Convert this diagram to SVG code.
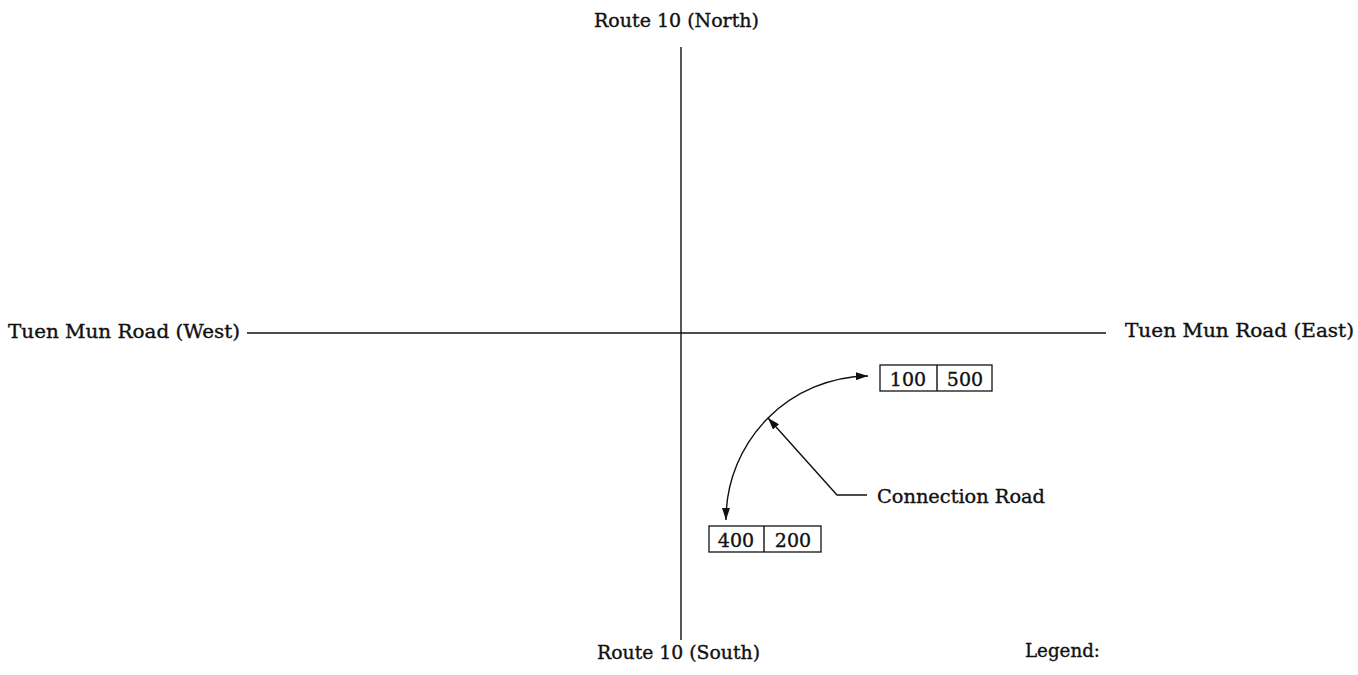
<svg xmlns="http://www.w3.org/2000/svg" width="1358" height="675" viewBox="0 0 1358 675">
<style>
text{font-family:"DejaVu Serif","Liberation Serif",serif;font-size:18px;fill:#111;stroke:#111;stroke-width:0.35}
.num{font-size:19px}
.ln{stroke:#111;stroke-width:1.4;fill:none}
.box{stroke:#111;stroke-width:1.3;fill:#fff}
</style>
<defs>
<marker id="ah" viewBox="0 0 12 8" refX="12" refY="4" markerWidth="12" markerHeight="8" markerUnits="userSpaceOnUse" orient="auto">
<path d="M0,0 L12,4 L0,8 Z" fill="#111"/>
</marker>
</defs>
<rect width="1358" height="675" fill="#fff"/>
<g id="connectors">
<line class="ln" x1="681" y1="47" x2="681" y2="640"/>
<line class="ln" x1="247" y1="333" x2="1106" y2="333"/>
<path class="ln" d="M 768 418 A 144 144 0 0 0 726 520" marker-end="url(#ah)"/>
<path class="ln" d="M 768 418 A 144 144 0 0 1 868 376" marker-end="url(#ah)"/>
<path class="ln" d="M 867 495 L 837 495 L 768 418" marker-end="url(#ah)"/>
</g>
<g id="north"><text x="594" y="27" textLength="165" lengthAdjust="spacingAndGlyphs">Route 10 (North)</text></g>
<g id="south"><text x="597" y="659" textLength="163" lengthAdjust="spacingAndGlyphs">Route 10 (South)</text></g>
<g id="west"><text x="8" y="338" textLength="232" lengthAdjust="spacingAndGlyphs">Tuen Mun Road (West)</text></g>
<g id="east"><text x="1125" y="337" textLength="229" lengthAdjust="spacingAndGlyphs">Tuen Mun Road (East)</text></g>
<g id="box1">
<rect class="box" x="880" y="365" width="112" height="26"/>
<line class="ln" x1="937" y1="365" x2="937" y2="391" stroke-width="1.2"/>
<text class="num" x="908" y="386" text-anchor="middle">100</text>
<text class="num" x="965" y="386" text-anchor="middle">500</text>
</g>
<g id="box2">
<rect class="box" x="709" y="526" width="112" height="26"/>
<line class="ln" x1="764" y1="526" x2="764" y2="552" stroke-width="1.2"/>
<text class="num" x="736" y="547" text-anchor="middle">400</text>
<text class="num" x="793" y="547" text-anchor="middle">200</text>
</g>
<g id="connection-road"><text x="877" y="503" textLength="168" lengthAdjust="spacingAndGlyphs">Connection Road</text></g>
<g id="legend"><text x="1025" y="657" textLength="75" lengthAdjust="spacingAndGlyphs">Legend:</text></g>
</svg>
